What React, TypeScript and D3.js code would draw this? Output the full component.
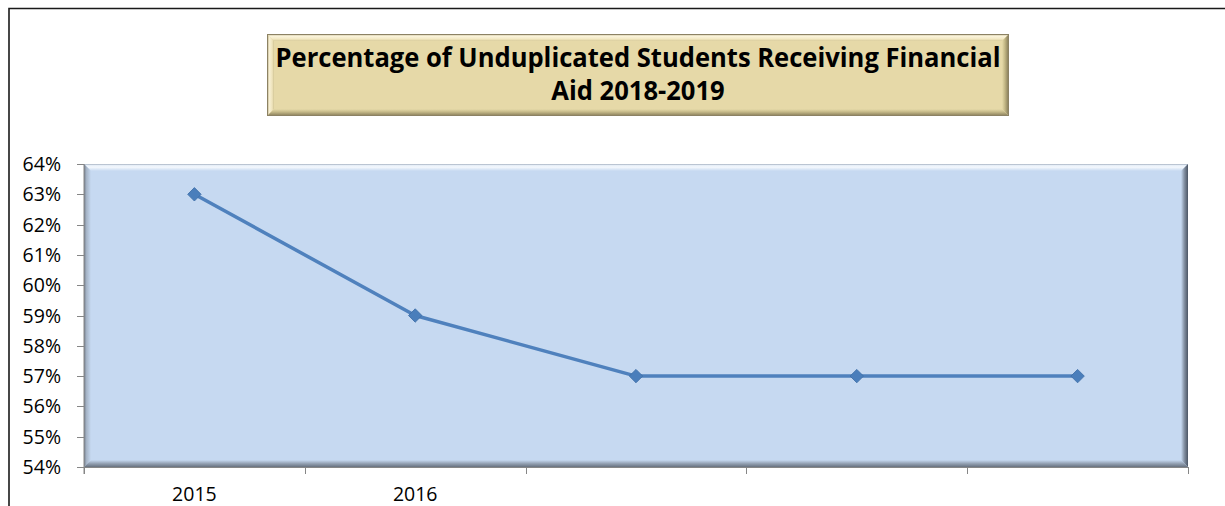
import { useEffect, useRef } from 'react';
import * as d3 from 'd3';

const years = ['2015', '2016', '2017', '2018', '2019'];
const xTickLabels = ['2015', '2016', '', '', ''];
const aidShare = [0.63, 0.59, 0.57, 0.57, 0.57];
const yTicks = [0.54, 0.55, 0.56, 0.57, 0.58, 0.59, 0.6, 0.61, 0.62, 0.63, 0.64];
const titleLines = ['Percentage of Unduplicated Students Receiving Financial', 'Aid 2018-2019'];

const W = 1225;
const H = 506;

export default function App() {
  const svgRef = useRef<SVGSVGElement>(null);

  useEffect(() => {
    if (!svgRef.current) return;
    const svg = d3.select(svgRef.current);
    svg.selectAll('*').remove();

    const plot = { left: 84, right: 1188, top: 164, bottom: 467 };
    const font = "'Open Sans', Calibri, sans-serif";

    const x = d3.scaleBand().domain(years).range([plot.left, plot.right]).padding(0);
    const y = d3.scaleLinear().domain([0.54, 0.64]).range([plot.bottom, plot.top]);

    const defs = svg.append('defs');
    const grad = (id: string, dir: [number, number, number, number], stops: [number, string][]) => {
      const g = defs
        .append('linearGradient')
        .attr('id', id)
        .attr('x1', dir[0])
        .attr('y1', dir[1])
        .attr('x2', dir[2])
        .attr('y2', dir[3]);
      stops.forEach(([o, c]) => g.append('stop').attr('offset', o).attr('stop-color', c));
    };

    // outer frame
    svg
      .append('path')
      .attr('d', `M9,${H} V8.5 H${W}`)
      .attr('fill', 'none')
      .attr('stroke', '#1a1a1a')
      .attr('stroke-width', 1.6);

    const bevel = (
      g: d3.Selection<SVGGElement, unknown, null, undefined>,
      r: { x0: number; y0: number; x1: number; y1: number },
      b: number,
      ids: string[]
    ) => {
      const polys = [
        [[r.x0, r.y0], [r.x1, r.y0], [r.x1 - b, r.y0 + b], [r.x0 + b, r.y0 + b]],
        [[r.x0, r.y0], [r.x0 + b, r.y0 + b], [r.x0 + b, r.y1 - b], [r.x0, r.y1]],
        [[r.x1, r.y0], [r.x1, r.y1], [r.x1 - b, r.y1 - b], [r.x1 - b, r.y0 + b]],
        [[r.x0, r.y1], [r.x0 + b, r.y1 - b], [r.x1 - b, r.y1 - b], [r.x1, r.y1]],
      ];
      polys.forEach((p, i) => {
        g.append('polygon')
          .attr('points', p.map((q) => q.join(',')).join(' '))
          .attr('fill', `url(#${ids[i]})`);
      });
    };

    // title box
    const tb = { x0: 267, y0: 34, x1: 1009, y1: 116 };
    grad('tTop', [0, 0, 0, 1], [[0, '#b9ad84'], [0.3, '#fbf4dc'], [0.7, '#f3e9c4'], [1, '#d9cc9b']]);
    grad('tLeft', [0, 0, 1, 0], [[0, '#b3a77e'], [0.35, '#f7efd3'], [0.75, '#eee3bb'], [1, '#d2c594']]);
    grad('tRight', [0, 0, 1, 0], [[0, '#e6daa9'], [0.4, '#c4b886'], [1, '#7f7554']]);
    grad('tBottom', [0, 0, 0, 1], [[0, '#e6daa9'], [0.4, '#c7bb8a'], [1, '#857a58']]);
    const tg = svg.append('g');
    tg.append('rect')
      .attr('x', tb.x0)
      .attr('y', tb.y0)
      .attr('width', tb.x1 - tb.x0)
      .attr('height', tb.y1 - tb.y0)
      .attr('fill', '#e6d9a8');
    bevel(tg, tb, 7, ['tTop', 'tLeft', 'tRight', 'tBottom']);
    tg.append('rect')
      .attr('x', tb.x0 + 0.5)
      .attr('y', tb.y0 + 0.5)
      .attr('width', tb.x1 - tb.x0 - 1)
      .attr('height', tb.y1 - tb.y0 - 1)
      .attr('fill', 'none')
      .attr('stroke', '#8c8264')
      .attr('stroke-width', 1);

    // title, squeezed horizontally to mimic a condensed face
    const cx = (tb.x0 + tb.x1) / 2;
    let ratio = 1;
    tg.selectAll('text.title')
      .data(titleLines)
      .enter()
      .append('text')
      .attr('class', 'title')
      .attr('x', cx)
      .attr('y', (_d, i) => 67 + i * 33)
      .attr('text-anchor', 'middle')
      .attr('font-family', font)
      .attr('font-weight', 700)
      .attr('font-size', 26)
      .attr('fill', '#000')
      .each(function (d, i) {
        const t = d3.select(this).text(d);
        const len = (this as SVGTextElement).getComputedTextLength();
        if (i === 0) ratio = Math.min(1, 725 / len);
        t.attr('textLength', len * ratio).attr('lengthAdjust', 'spacingAndGlyphs');
      });

    // plot area
    const pr = { x0: plot.left, y0: plot.top, x1: plot.right, y1: plot.bottom };
    grad('pTop', [0, 0, 0, 1], [[0, '#a2aebd'], [0.2, '#e6eef8'], [0.45, '#f4f8fd'], [1, '#c6d9f1']]);
    grad('pLeft', [0, 0, 1, 0], [[0, '#737e8d'], [0.35, '#a6b4c6'], [1, '#c6d9f1']]);
    grad('pRight', [0, 0, 1, 0], [[0, '#c6d9f1'], [0.45, '#8794a6'], [1, '#4b5564']]);
    grad('pBottom', [0, 0, 0, 1], [[0, '#c6d9f1'], [0.5, '#94a2b4'], [1, '#67717f']]);
    const pg = svg.append('g');
    pg.append('rect')
      .attr('x', pr.x0)
      .attr('y', pr.y0)
      .attr('width', pr.x1 - pr.x0)
      .attr('height', pr.y1 - pr.y0)
      .attr('fill', '#c6d9f1');
    bevel(pg, pr, 7, ['pTop', 'pLeft', 'pRight', 'pBottom']);

    // y axis
    const yAxis = svg.append('g');
    yAxis
      .append('line')
      .attr('x1', plot.left)
      .attr('x2', plot.left)
      .attr('y1', plot.top)
      .attr('y2', plot.bottom + 7)
      .attr('stroke', '#868686')
      .attr('stroke-width', 1);
    yAxis
      .selectAll('line.tick')
      .data(yTicks)
      .enter()
      .append('line')
      .attr('class', 'tick')
      .attr('x1', plot.left - 7)
      .attr('x2', plot.left)
      .attr('y1', (d) => Math.round(y(d)) + 0.5)
      .attr('y2', (d) => Math.round(y(d)) + 0.5)
      .attr('stroke', '#868686');
    yAxis
      .selectAll('text')
      .data(yTicks)
      .enter()
      .append('text')
      .attr('x', 61)
      .attr('y', (d) => y(d))
      .attr('dy', '0.36em')
      .attr('text-anchor', 'end')
      .attr('font-family', font)
      .attr('font-size', 19.5)
      .attr('fill', '#000')
      .text((d) => d3.format('.0%')(d));

    // x axis
    const xAxis = svg.append('g');
    xAxis
      .append('line')
      .attr('x1', plot.left)
      .attr('x2', plot.right)
      .attr('y1', plot.bottom + 0.5)
      .attr('y2', plot.bottom + 0.5)
      .attr('stroke', '#868686');
    const bounds = years.map((d) => x(d) as number).concat([plot.right]);
    xAxis
      .selectAll('line.tick')
      .data(bounds)
      .enter()
      .append('line')
      .attr('class', 'tick')
      .attr('x1', (d) => Math.round(d) + 0.5)
      .attr('x2', (d) => Math.round(d) + 0.5)
      .attr('y1', plot.bottom)
      .attr('y2', plot.bottom + 7)
      .attr('stroke', '#868686');
    xAxis
      .selectAll('text')
      .data(years)
      .enter()
      .append('text')
      .attr('x', (d) => (x(d) as number) + x.bandwidth() / 2)
      .attr('y', 501)
      .attr('text-anchor', 'middle')
      .attr('font-family', font)
      .attr('font-size', 19.5)
      .attr('fill', '#000')
      .text((_d, i) => xTickLabels[i]);

    // series
    const pts = years.map((yr, i) => [(x(yr) as number) + x.bandwidth() / 2, y(aidShare[i])] as [number, number]);
    svg
      .append('path')
      .attr('d', d3.line()(pts))
      .attr('fill', 'none')
      .attr('stroke', '#4f81bd')
      .attr('stroke-width', 3.5)
      .attr('stroke-linejoin', 'round');
    const marker = d3.symbol().type(d3.symbolSquare).size(90);
    svg
      .selectAll('path.marker')
      .data(pts)
      .enter()
      .append('path')
      .attr('class', 'marker')
      .attr('d', marker() as string)
      .attr('transform', (d) => `translate(${d[0]},${d[1]}) rotate(45)`)
      .attr('fill', '#4a7ebb')
      .attr('stroke', '#3f6fa8')
      .attr('stroke-width', 0.8);
  }, []);

  return (
    <div style={{ position: 'absolute', left: 0, top: 0, width: W, height: H, background: '#fff' }}>
      <svg ref={svgRef} width={W} height={H} style={{ display: 'block' }} />
    </div>
  );
}
